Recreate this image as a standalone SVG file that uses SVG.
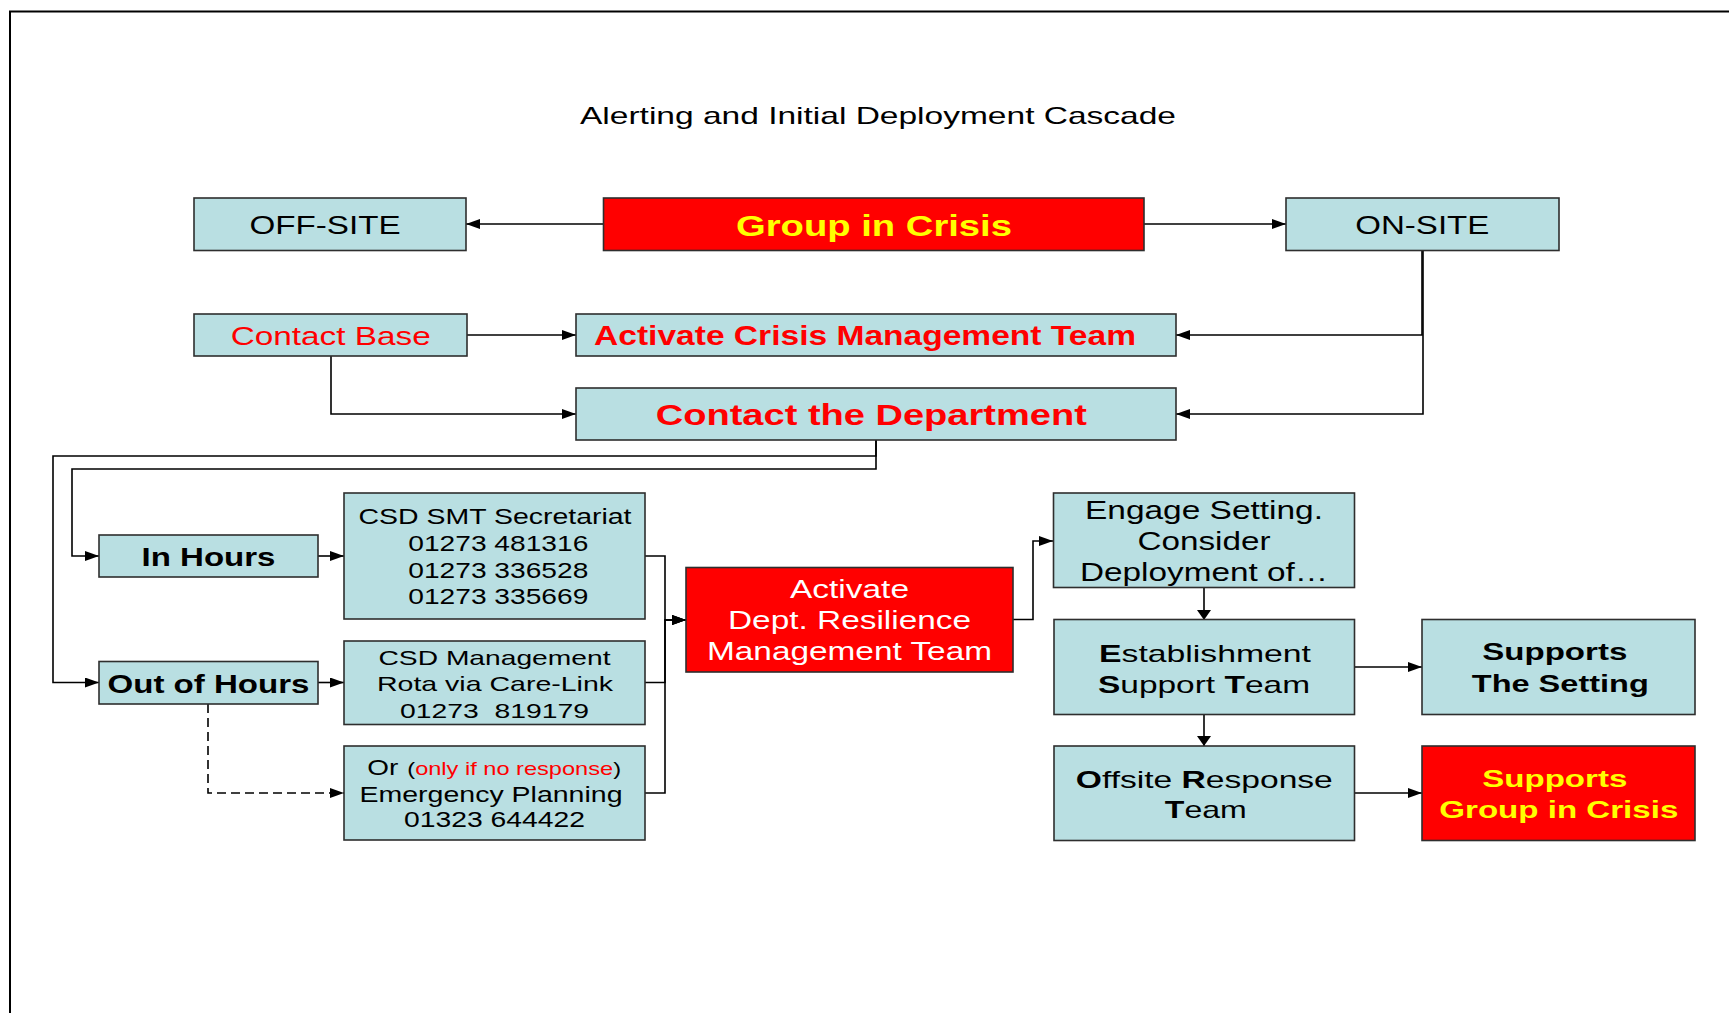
<svg xmlns="http://www.w3.org/2000/svg" width="1729" height="1013" viewBox="0 0 1729 1013">
<style>
text{font-family:"Liberation Sans",Arial,Helvetica,sans-serif;text-anchor:middle}
.b{fill:#b9dfe2;stroke:#2e2e2e;stroke-width:1.6}
.r{fill:#ff0000;stroke:#2e2e2e;stroke-width:1.6}
.c{fill:none;stroke:#000;stroke-width:1.6}
.d{fill:none;stroke:#000;stroke-width:1.6;stroke-dasharray:9 5}
.bd{font-weight:bold}
</style>
<defs>
<marker id="ah" viewBox="0 0 14 10" refX="14" refY="5" markerWidth="14" markerHeight="10" markerUnits="userSpaceOnUse" orient="auto"><path d="M0,0 L14,5 L0,10 z" fill="#000"/></marker>
<marker id="av" viewBox="0 0 10 14" refX="10" refY="7" markerWidth="10" markerHeight="14" markerUnits="userSpaceOnUse" orient="auto"><path d="M0,0 L10,7 L0,14 z" fill="#000"/></marker>
</defs>
<rect width="1729" height="1013" fill="#fff"/>
<path d="M10,1013 V11.5 H1729" fill="none" stroke="#000" stroke-width="2"/>
<text x="878" y="124.3" font-size="24" textLength="596" lengthAdjust="spacingAndGlyphs">Alerting and Initial Deployment Cascade</text>

<g id="connectors">
<path class="c" d="M603,224 H466" marker-end="url(#ah)"/>
<path class="c" d="M1144,224 H1286" marker-end="url(#ah)"/>
<path class="c" d="M467,335 H576" marker-end="url(#ah)"/>
<path class="c" d="M331,356 V414 H576" marker-end="url(#ah)"/>
<path class="c" d="M1422,251 V335 H1176" marker-end="url(#ah)"/>
<path class="c" d="M1423,251 V414 H1176" marker-end="url(#ah)"/>
<path class="c" d="M876,440 V469 H72 V556 H99" marker-end="url(#ah)"/>
<path class="c" d="M876,440 V456 H53 V682.5 H99" marker-end="url(#ah)"/>
<path class="c" d="M318,556 H344" marker-end="url(#ah)"/>
<path class="c" d="M318,682.5 H344" marker-end="url(#ah)"/>
<path class="d" d="M208,704 V793 H344" marker-end="url(#ah)"/>
<path class="c" d="M645,556 H665 V620 H686" marker-end="url(#ah)"/>
<path class="c" d="M645,682.5 H665 V620 H686" marker-end="url(#ah)"/>
<path class="c" d="M645,793 H665 V620 H686" marker-end="url(#ah)"/>
<path class="c" d="M1013,619.5 H1033 V541 H1053" marker-end="url(#ah)"/>
<path class="c" d="M1204,588 V620" marker-end="url(#av)"/>
<path class="c" d="M1204,714 V746" marker-end="url(#av)"/>
<path class="c" d="M1354,667 H1422" marker-end="url(#ah)"/>
<path class="c" d="M1354,793 H1422" marker-end="url(#ah)"/>
</g>

<g id="off-site">
<rect class="b" x="194" y="198" width="272" height="52.5"/>
<text x="325" y="234" font-size="26" textLength="151" lengthAdjust="spacingAndGlyphs">OFF-SITE</text>
</g>
<g id="group-in-crisis">
<rect class="r" x="603.5" y="198" width="540.5" height="52.5"/>
<text x="874" y="236" font-size="29" class="bd" fill="#ffff00" textLength="276" lengthAdjust="spacingAndGlyphs">Group in Crisis</text>
</g>
<g id="on-site">
<rect class="b" x="1286" y="198" width="273" height="52.5"/>
<text x="1422.3" y="234" font-size="26" textLength="134" lengthAdjust="spacingAndGlyphs">ON-SITE</text>
</g>
<g id="contact-base">
<rect class="b" x="194" y="314" width="273" height="42"/>
<text x="330.7" y="345" font-size="26" fill="#ff0000" textLength="200" lengthAdjust="spacingAndGlyphs">Contact Base</text>
</g>
<g id="activate-cmt">
<rect class="b" x="576" y="314" width="600" height="42"/>
<text x="865" y="345" font-size="27" class="bd" fill="#ff0000" textLength="542" lengthAdjust="spacingAndGlyphs">Activate Crisis Management Team</text>
</g>
<g id="contact-department">
<rect class="b" x="576" y="388" width="600" height="52"/>
<text x="871.3" y="425" font-size="29" class="bd" fill="#ff0000" textLength="431" lengthAdjust="spacingAndGlyphs">Contact the Department</text>
</g>
<g id="in-hours">
<rect class="b" x="99" y="535" width="219" height="42"/>
<text x="208.5" y="565.7" font-size="26" class="bd" textLength="134" lengthAdjust="spacingAndGlyphs">In Hours</text>
</g>
<g id="out-of-hours">
<rect class="b" x="99" y="661.5" width="219" height="42.5"/>
<text x="208.5" y="693.3" font-size="26" class="bd" textLength="202" lengthAdjust="spacingAndGlyphs">Out of Hours</text>
</g>
<g id="csd-smt">
<rect class="b" x="344" y="493" width="301" height="126"/>
<text x="495" y="524.3" font-size="21.5" textLength="273" lengthAdjust="spacingAndGlyphs">CSD SMT Secretariat</text>
<text x="498.3" y="551" font-size="21.5" textLength="180" lengthAdjust="spacingAndGlyphs">01273 481316</text>
<text x="498.3" y="577.7" font-size="21.5" textLength="180" lengthAdjust="spacingAndGlyphs">01273 336528</text>
<text x="498.3" y="604.3" font-size="21.5" textLength="180" lengthAdjust="spacingAndGlyphs">01273 335669</text>
</g>
<g id="csd-management">
<rect class="b" x="344" y="641" width="301" height="83.5"/>
<text x="494.5" y="665" font-size="21" textLength="232" lengthAdjust="spacingAndGlyphs">CSD Management</text>
<text x="495" y="691" font-size="21" textLength="236" lengthAdjust="spacingAndGlyphs">Rota via Care-Link</text>
<text x="494.5" y="717.5" font-size="21" textLength="189" lengthAdjust="spacingAndGlyphs" xml:space="preserve">01273  819179</text>
</g>
<g id="emergency-planning">
<rect class="b" x="344" y="746" width="301" height="94"/>
<text x="367.3" y="775" font-size="22" style="text-anchor:start" textLength="31" lengthAdjust="spacingAndGlyphs">Or</text>
<text x="407.3" y="775" font-size="19" style="text-anchor:start" textLength="213.7" lengthAdjust="spacingAndGlyphs">(<tspan fill="#ff0000">only if no response</tspan>)</text>
<text x="491" y="801.7" font-size="21.5" textLength="263" lengthAdjust="spacingAndGlyphs">Emergency Planning</text>
<text x="494.5" y="827" font-size="21.5" textLength="181" lengthAdjust="spacingAndGlyphs">01323 644422</text>
</g>
<g id="activate-drmt">
<rect class="r" x="686" y="567.5" width="327" height="104.5"/>
<text x="849.5" y="598.3" font-size="26" fill="#fff" textLength="119" lengthAdjust="spacingAndGlyphs">Activate</text>
<text x="849.5" y="629" font-size="26" fill="#fff" textLength="243" lengthAdjust="spacingAndGlyphs">Dept. Resilience</text>
<text x="849.5" y="660" font-size="26" fill="#fff" textLength="285" lengthAdjust="spacingAndGlyphs">Management Team</text>
</g>
<g id="engage-setting">
<rect class="b" x="1053.5" y="493" width="301" height="94.5"/>
<text x="1204" y="519" font-size="25.5" textLength="238" lengthAdjust="spacingAndGlyphs">Engage Setting.</text>
<text x="1204" y="550" font-size="25.5" textLength="133" lengthAdjust="spacingAndGlyphs">Consider</text>
<text x="1204" y="581" font-size="25.5" textLength="248" lengthAdjust="spacingAndGlyphs">Deployment of…</text>
</g>
<g id="establishment-support-team">
<rect class="b" x="1054" y="619.5" width="300.5" height="95"/>
<text x="1205" y="661.7" font-size="24" textLength="212" lengthAdjust="spacingAndGlyphs"><tspan class="bd">E</tspan>stablishment</text>
<text x="1204" y="692.7" font-size="24" textLength="212" lengthAdjust="spacingAndGlyphs"><tspan class="bd">S</tspan>upport <tspan class="bd">T</tspan>eam</text>
</g>
<g id="offsite-response-team">
<rect class="b" x="1054" y="746" width="300.5" height="94.5"/>
<text x="1204.3" y="788.3" font-size="24" textLength="257" lengthAdjust="spacingAndGlyphs"><tspan class="bd">O</tspan>ffsite <tspan class="bd">R</tspan>esponse</text>
<text x="1205.8" y="818.3" font-size="24" textLength="82" lengthAdjust="spacingAndGlyphs"><tspan class="bd">T</tspan>eam</text>
</g>
<g id="supports-setting">
<rect class="b" x="1422" y="619.5" width="273" height="95"/>
<text x="1554.8" y="660" font-size="23" class="bd" textLength="145" lengthAdjust="spacingAndGlyphs">Supports</text>
<text x="1560.3" y="691.7" font-size="23" class="bd" textLength="177" lengthAdjust="spacingAndGlyphs">The Setting</text>
</g>
<g id="supports-group">
<rect class="r" x="1422" y="746" width="273" height="94.5"/>
<text x="1554.8" y="786.7" font-size="23" class="bd" fill="#ffff00" textLength="145" lengthAdjust="spacingAndGlyphs">Supports</text>
<text x="1558.8" y="818.3" font-size="23" class="bd" fill="#ffff00" textLength="239" lengthAdjust="spacingAndGlyphs">Group in Crisis</text>
</g>
</svg>
